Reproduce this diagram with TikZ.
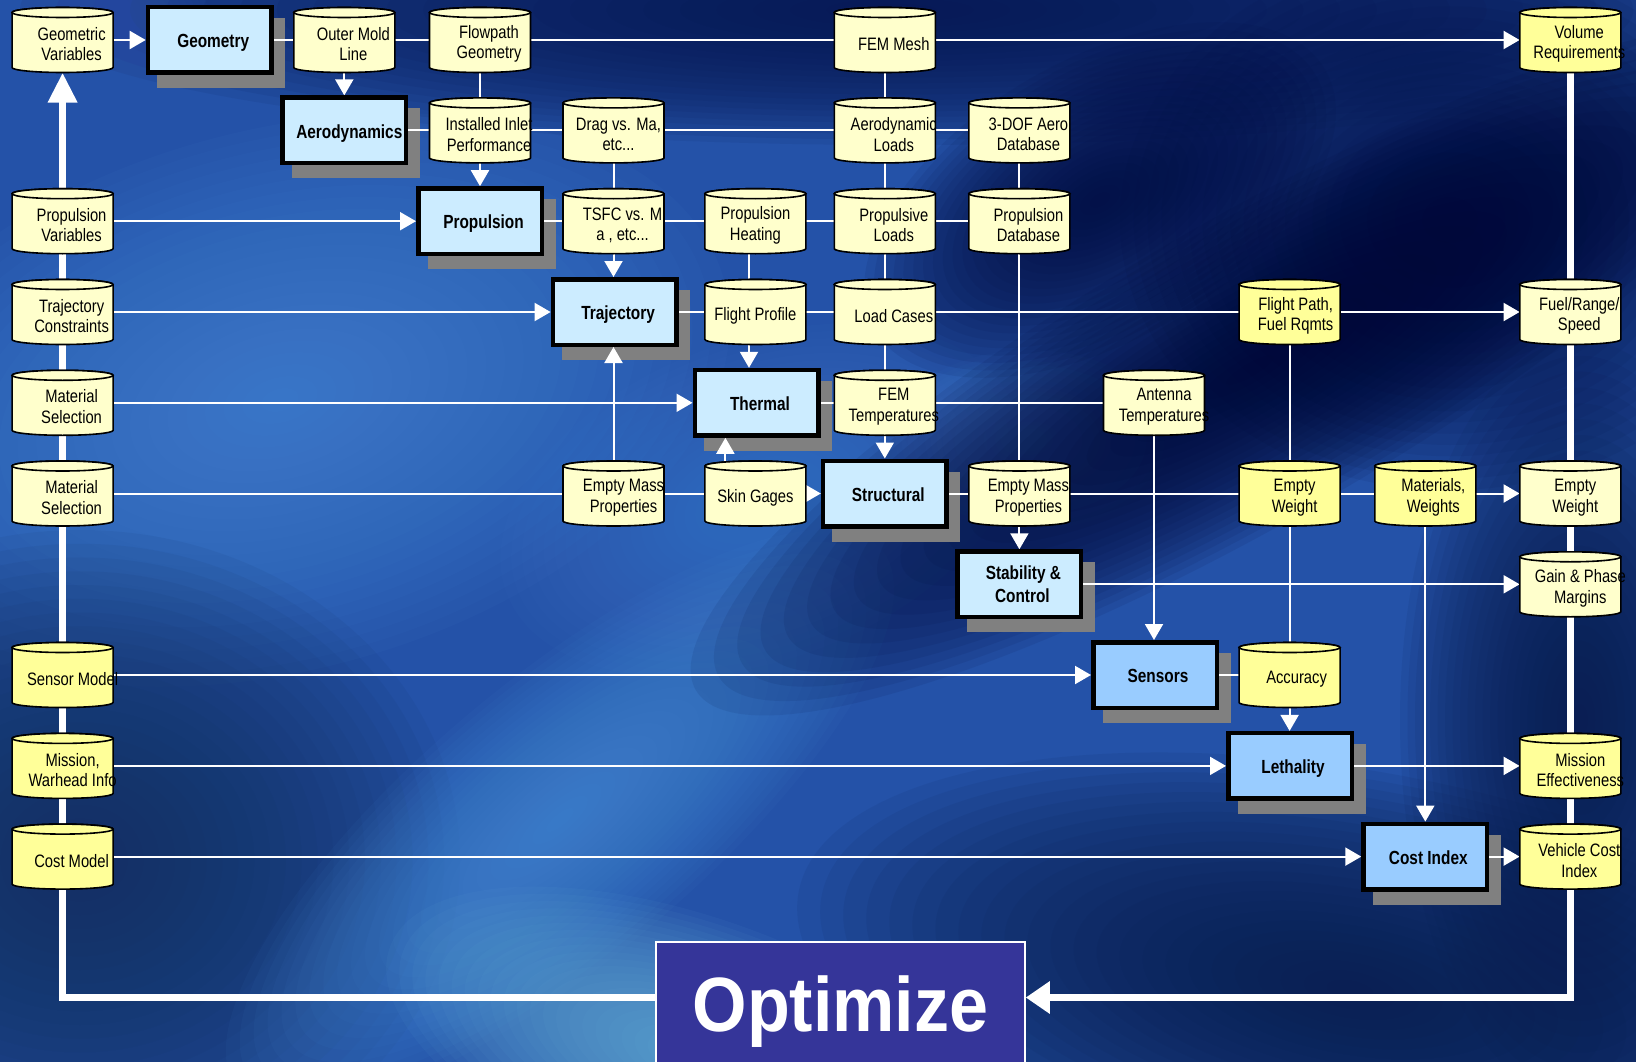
\documentclass[tikz,border=0pt]{standalone}
\usepackage{fontspec}
\setmainfont{Liberation Sans}
\newfontfamily\cylfont[FakeStretch=0.82]{Liberation Sans}
\newfontfamily\boxfont[FakeStretch=0.81]{Liberation Sans}
\newfontfamily\optfont[FakeStretch=0.91]{Liberation Sans}
\usetikzlibrary{arrows.meta,calc}
\pgfdeclarelayer{bg}\pgfdeclarelayer{shadowlayer}\pgfdeclarelayer{lines}
\pgfsetlayers{bg,shadowlayer,lines,main}

\definecolor{paleY}{HTML}{FFFFCC}
\definecolor{brightY}{HTML}{FFFF99}
\definecolor{boxA}{HTML}{CCECFF}
\definecolor{boxB}{HTML}{99CCFF}
\definecolor{shadowgray}{HTML}{808080}
\definecolor{optblue}{HTML}{353599}
\definecolor{bgbase}{HTML}{2452A8}
\definecolor{bgtopdark}{HTML}{071650}
\definecolor{bgtopleft}{HTML}{3558B0}
\definecolor{bgband}{HTML}{000836}
\definecolor{bgur}{HTML}{05134A}
\definecolor{bgleft}{HTML}{4A8ADA}
\definecolor{bgmid}{HTML}{3E78CC}
\definecolor{bgspot}{HTML}{4A80D0}
\definecolor{bgstreak}{HTML}{4A90DA}
\definecolor{bgcyan}{HTML}{6CB6DC}
\definecolor{bgbl}{HTML}{14305E}
\definecolor{bgright}{HTML}{0A1C4C}
\definecolor{bgbr}{HTML}{0A1E4C}
\definecolor{bgdark}{HTML}{030C40}

\tikzset{
 cylanchor/.style={minimum width=101pt, minimum height=65pt, inner sep=0pt, draw=none},
 cyltext/.style={font=\cylfont\fontsize{18}{20.5}\selectfont, align=center, inner sep=0pt, text=black},
 procbox/.style={draw=black, line width=4.5pt, fill=#1, minimum width=123.5pt, minimum height=65.5pt, inner sep=0pt, font=\boxfont\bfseries\fontsize{19}{23}\selectfont, align=center, text=black},
 procbox/.default=boxA,
 oneline/.style={text height=17pt, text depth=1.5pt},
 conn/.style={draw=white, line width=2pt},
 connarrow/.style={conn, -{Triangle[length=16pt, width=18pt]}},
 thickconn/.style={draw=white, line width=7pt},
}

% \mycyl[text x offset]{name}{x}{y}{fill}{text}
\newcommand\mycyl[6][9]{%
 \node[cylanchor] (#2) at (#3,#4) {};
 \begin{scope}[shift={(#3,#4)}]
  \filldraw[fill=#5, draw=black, line width=1.6pt] (-50.5,-27.5) -- (-50.5,27.5) arc[start angle=180, end angle=0, x radius=50.5, y radius=5] -- (50.5,-27.5) arc[start angle=0, end angle=-180, x radius=50.5, y radius=5] -- cycle;
  \filldraw[fill=#5, draw=black, line width=1.6pt] (0,-27.5) ellipse[x radius=50.5, y radius=5];
  \node[cyltext] at (#1,4) {#6};
 \end{scope}}

% \mybox[extra style]{name}{x}{y}{fill}{text}
\newcommand\mybox[6][oneline]{%
 \node[procbox=#5, #1] (#2) at (#3,#4) {#6};
 \begin{pgfonlayer}{shadowlayer}
  \fill[shadowgray] ($(#2.south west)+(11.5,13)$) rectangle ($(#2.north east)+(11.5,13)$);
 \end{pgfonlayer}}

% \blob{x}{y}{rx}{ry}{angle}{colour}{opacity per step (16-step equivalent)}
\newcommand\blob[7]{%
  \pgfmathsetmacro\bop{1-(1-#7)^(2/3)}%
  \foreach \k in {0,...,23}{%
    \pgfmathsetmacro\brx{#3*(1-\k/24)}%
    \pgfmathsetmacro\bry{#4*(1-\k/24)}%
    \fill[#6, fill opacity=\bop, rotate around={#5:(#1,#2)}] (#1,#2) ellipse[x radius=\brx, y radius=\bry];
  }}

\begin{document}
\begin{tikzpicture}[x=1pt,y=-1pt]
\useasboundingbox (0,0) rectangle (1636,1062);

% background
\begin{pgfonlayer}{bg}
 \clip (0,0) rectangle (1636,1062);
 \fill[bgbase] (0,0) rectangle (1636,1062);
 \blob{900}{10}{880}{135}{0}{bgtopdark}{0.12}
 \blob{50}{20}{160}{80}{0}{bgtopleft}{0.08}
 \blob{280}{400}{460}{270}{15}{bgleft}{0.08}
 \blob{760}{500}{270}{160}{20}{bgmid}{0.08}
 \blob{1030}{440}{140}{90}{0}{bgspot}{0.08}
 \blob{80}{860}{380}{330}{0}{bgbl}{0.11}
 \blob{560}{820}{420}{140}{40}{bgstreak}{0.08}
 \blob{700}{1060}{330}{140}{-20}{bgcyan}{0.09}
 \blob{1350}{990}{560}{220}{-10}{bgbr}{0.12}
 \blob{1580}{720}{180}{380}{0}{bgright}{0.12}
 \blob{1450}{220}{330}{270}{0}{bgur}{0.12}
 \blob{1100}{200}{260}{140}{30}{bgdark}{0.12}
 \blob{1250}{370}{640}{150}{30}{bgband}{0.12}
\end{pgfonlayer}

% cylinders
\mycyl{gv}{62.6}{40}{paleY}{Geometric\\Variables}
\mycyl{oml}{344.3}{40}{paleY}{Outer Mold\\Line}
\mycyl{fp}{480}{40}{paleY}{Flowpath\\Geometry}
\mycyl{fem}{884.8}{40}{paleY}{FEM Mesh}
\mycyl{vr}{1570.3}{40}{brightY}{Volume\\Requirements}
\mycyl{inlet}{480}{130.4}{paleY}{Installed Inlet\\Performance}
\mycyl[5]{drag}{613.5}{130.4}{paleY}{Drag vs. Ma,\\etc...}
\mycyl{aerol}{884.8}{130.4}{paleY}{Aerodynamic\\Loads}
\mycyl{dof}{1019.4}{130.4}{paleY}{3-DOF Aero\\Database}
\mycyl{pv}{62.6}{221.2}{paleY}{Propulsion\\Variables}
\mycyl{tsfc}{613.5}{221.2}{paleY}{TSFC vs. M\\a , etc...}
\mycyl[0]{ph}{755.4}{221.2}{paleY}{Propulsion\\Heating}
\mycyl{pl}{884.8}{221.2}{paleY}{Propulsive\\Loads}
\mycyl{pdb}{1019.4}{221.2}{paleY}{Propulsion\\Database}
\mycyl{tc}{62.6}{312}{paleY}{Trajectory\\Constraints}
\mycyl[0]{fprof}{755.4}{312}{paleY}{Flight Profile}
\mycyl{lc}{884.8}{312}{paleY}{Load Cases}
\mycyl[6]{fpath}{1289.6}{312}{brightY}{Flight Path,\\Fuel Rqmts}
\mycyl{frs}{1570.3}{312}{paleY}{Fuel/Range/\\Speed}
\mycyl{msa}{62.6}{402.8}{paleY}{Material\\Selection}
\mycyl{femt}{884.8}{402.8}{paleY}{FEM\\Temperatures}
\mycyl[10]{ant}{1154}{402.8}{paleY}{Antenna\\Temperatures}
\mycyl{msb}{62.6}{493.5}{paleY}{Material\\Selection}
\mycyl[10]{empa}{613.5}{493.5}{paleY}{Empty Mass\\Properties}
\mycyl[0]{skin}{755.4}{493.5}{paleY}{Skin Gages}
\mycyl{empb}{1019.4}{493.5}{paleY}{Empty Mass\\Properties}
\mycyl[5]{ewa}{1289.6}{493.5}{brightY}{Empty\\Weight}
\mycyl[8]{mw}{1425.3}{493.5}{brightY}{Materials,\\Weights}
\mycyl[5]{ewb}{1570.3}{493.5}{paleY}{Empty\\Weight}
\mycyl[10]{gpm}{1570.3}{584.3}{paleY}{Gain \& Phase\\Margins}
\mycyl[10]{sm}{62.6}{675}{brightY}{Sensor Model}
\mycyl[7]{acc}{1289.6}{675}{brightY}{Accuracy}
\mycyl[10]{mwi}{62.6}{765.9}{brightY}{Mission,\\Warhead Info}
\mycyl[10]{me}{1570.3}{765.9}{brightY}{Mission\\Effectiveness}
\mycyl{cm}{62.6}{856.6}{brightY}{Cost Model}
\mycyl{vci}{1570.3}{856.6}{brightY}{Vehicle Cost\\Index}

% process boxes
\mybox{geom}{209.7}{40}{boxA}{\hspace*{7pt}Geometry}
\mybox{aero}{344.3}{130.4}{boxA}{\hspace*{10pt}Aerodynamics}
\mybox{prop}{480}{221.2}{boxA}{\hspace*{7pt}Propulsion}
\mybox{traj}{614.6}{312}{boxA}{\hspace*{7pt}Trajectory}
\mybox{therm}{756.5}{402.8}{boxA}{\hspace*{7pt}Thermal}
\mybox{struct}{884.8}{493.5}{boxA}{\hspace*{7pt}Structural}
\mybox[align=center]{stab}{1019.4}{584.3}{boxA}{\hspace*{8pt}Stability \&\\\hspace*{6pt}Control}
\mybox{sens}{1155}{675}{boxB}{\hspace*{6pt}Sensors}
\mybox{leth}{1290}{765.9}{boxB}{\hspace*{6pt}Lethality}
\mybox{cost}{1425.3}{856.6}{boxB}{\hspace*{6pt}Cost Index}

% optimize
\node[fill=optblue, draw=white, line width=1.5pt, minimum width=369pt, minimum height=140pt, inner sep=0pt,
      font=\optfont\bfseries\fontsize{77}{80}\selectfont, text=white] (opt) at (840.5,1012) {Optimize};

\coordinate (loopL) at (62.6,997.5);
\coordinate (xa) at (749,0);
\coordinate (xb) at (725.4,0);

\begin{pgfonlayer}{lines}
 % feedback loop
 \draw[thickconn, -{Triangle[length=30pt, width=28pt]}] (opt.west |- loopL) -- (loopL) -- (gv.south);
 \draw[thickconn, -{Triangle[length=24pt, width=31pt]}] (vr.south) -- (vr.south |- loopL) -- (opt.east |- loopL);

 % row 1
 \draw[connarrow] (gv) -- (geom);
 \draw[conn] (geom) -- (oml);
 \draw[conn] (oml) -- (fp);
 \draw[conn] (fp) -- (fem);
 \draw[connarrow] (fem) -- (vr);
 \draw[connarrow] (oml.south) -- (aero.north);
 \draw[conn] (fp.south) -- (inlet.north);
 \draw[conn] (fem.south) -- (aerol.north);
 % row 2
 \draw[conn] (aero) -- (inlet);
 \draw[conn] (inlet) -- (drag);
 \draw[conn] (drag) -- (aerol);
 \draw[conn] (aerol) -- (dof);
 \draw[connarrow] (inlet.south) -- (prop.north);
 \draw[conn] (drag.south) -- (tsfc.north);
 \draw[conn] (aerol.south) -- (pl.north);
 \draw[conn] (dof.south) -- (pdb.north);
 % row 3
 \draw[connarrow] (pv) -- (prop);
 \draw[conn] (prop) -- (tsfc);
 \draw[conn] (tsfc) -- (ph);
 \draw[conn] (ph) -- (pl);
 \draw[conn] (pl) -- (pdb);
 \draw[connarrow] (tsfc.south) -- (tsfc.south |- traj.north);
 \draw[conn] (ph.south -| xa) -- (fprof.north -| xa);
 \draw[conn] (pl.south) -- (lc.north);
 \draw[conn] (pdb.south) -- (empb.north);
 % row 4
 \draw[connarrow] (tc) -- (traj);
 \draw[conn] (traj) -- (fprof);
 \draw[conn] (fprof) -- (lc);
 \draw[conn] (lc) -- (fpath);
 \draw[connarrow] (fpath) -- (frs);
 \draw[connarrow] (fprof.south -| xa) -- (therm.north -| xa);
 \draw[conn] (lc.south) -- (femt.north);
 \draw[conn] (fpath.south) -- (ewa.north);
 % row 5
 \draw[connarrow] (msa) -- (therm);
 \draw[conn] (therm) -- (femt);
 \draw[conn] (femt) -- (ant);
 \draw[connarrow] (femt.south) -- (struct.north);
 \draw[connarrow] (ant.south) -- (ant.south |- sens.north);
 % row 6
 \draw[conn] (msb) -- (empa);
 \draw[conn] (empa) -- (skin);
 \draw[connarrow] (skin) -- (struct);
 \draw[conn] (struct) -- (empb);
 \draw[conn] (empb) -- (ewa);
 \draw[conn] (ewa) -- (mw);
 \draw[connarrow] (mw) -- (ewb);
 \draw[connarrow] (empa.north) -- (empa.north |- traj.south);
 \draw[connarrow] (skin.north -| xb) -- (therm.south -| xb);
 \draw[connarrow] (empb.south) -- (stab.north);
 \draw[conn] (ewa.south) -- (acc.north);
 \draw[connarrow] (mw.south) -- (mw.south |- cost.north);
 % row 7
 \draw[connarrow] (stab) -- (gpm);
 % row 8
 \draw[connarrow] (sm) -- (sens);
 \draw[conn] (sens) -- (acc);
 \draw[connarrow] (acc.south) -- (acc.south |- leth.north);
 % row 9
 \draw[connarrow] (mwi) -- (leth);
 \draw[connarrow] (leth) -- (me);
 % row 10
 \draw[connarrow] (cm) -- (cost);
 \draw[connarrow] (cost) -- (vci);
\end{pgfonlayer}
\end{tikzpicture}
\end{document}
